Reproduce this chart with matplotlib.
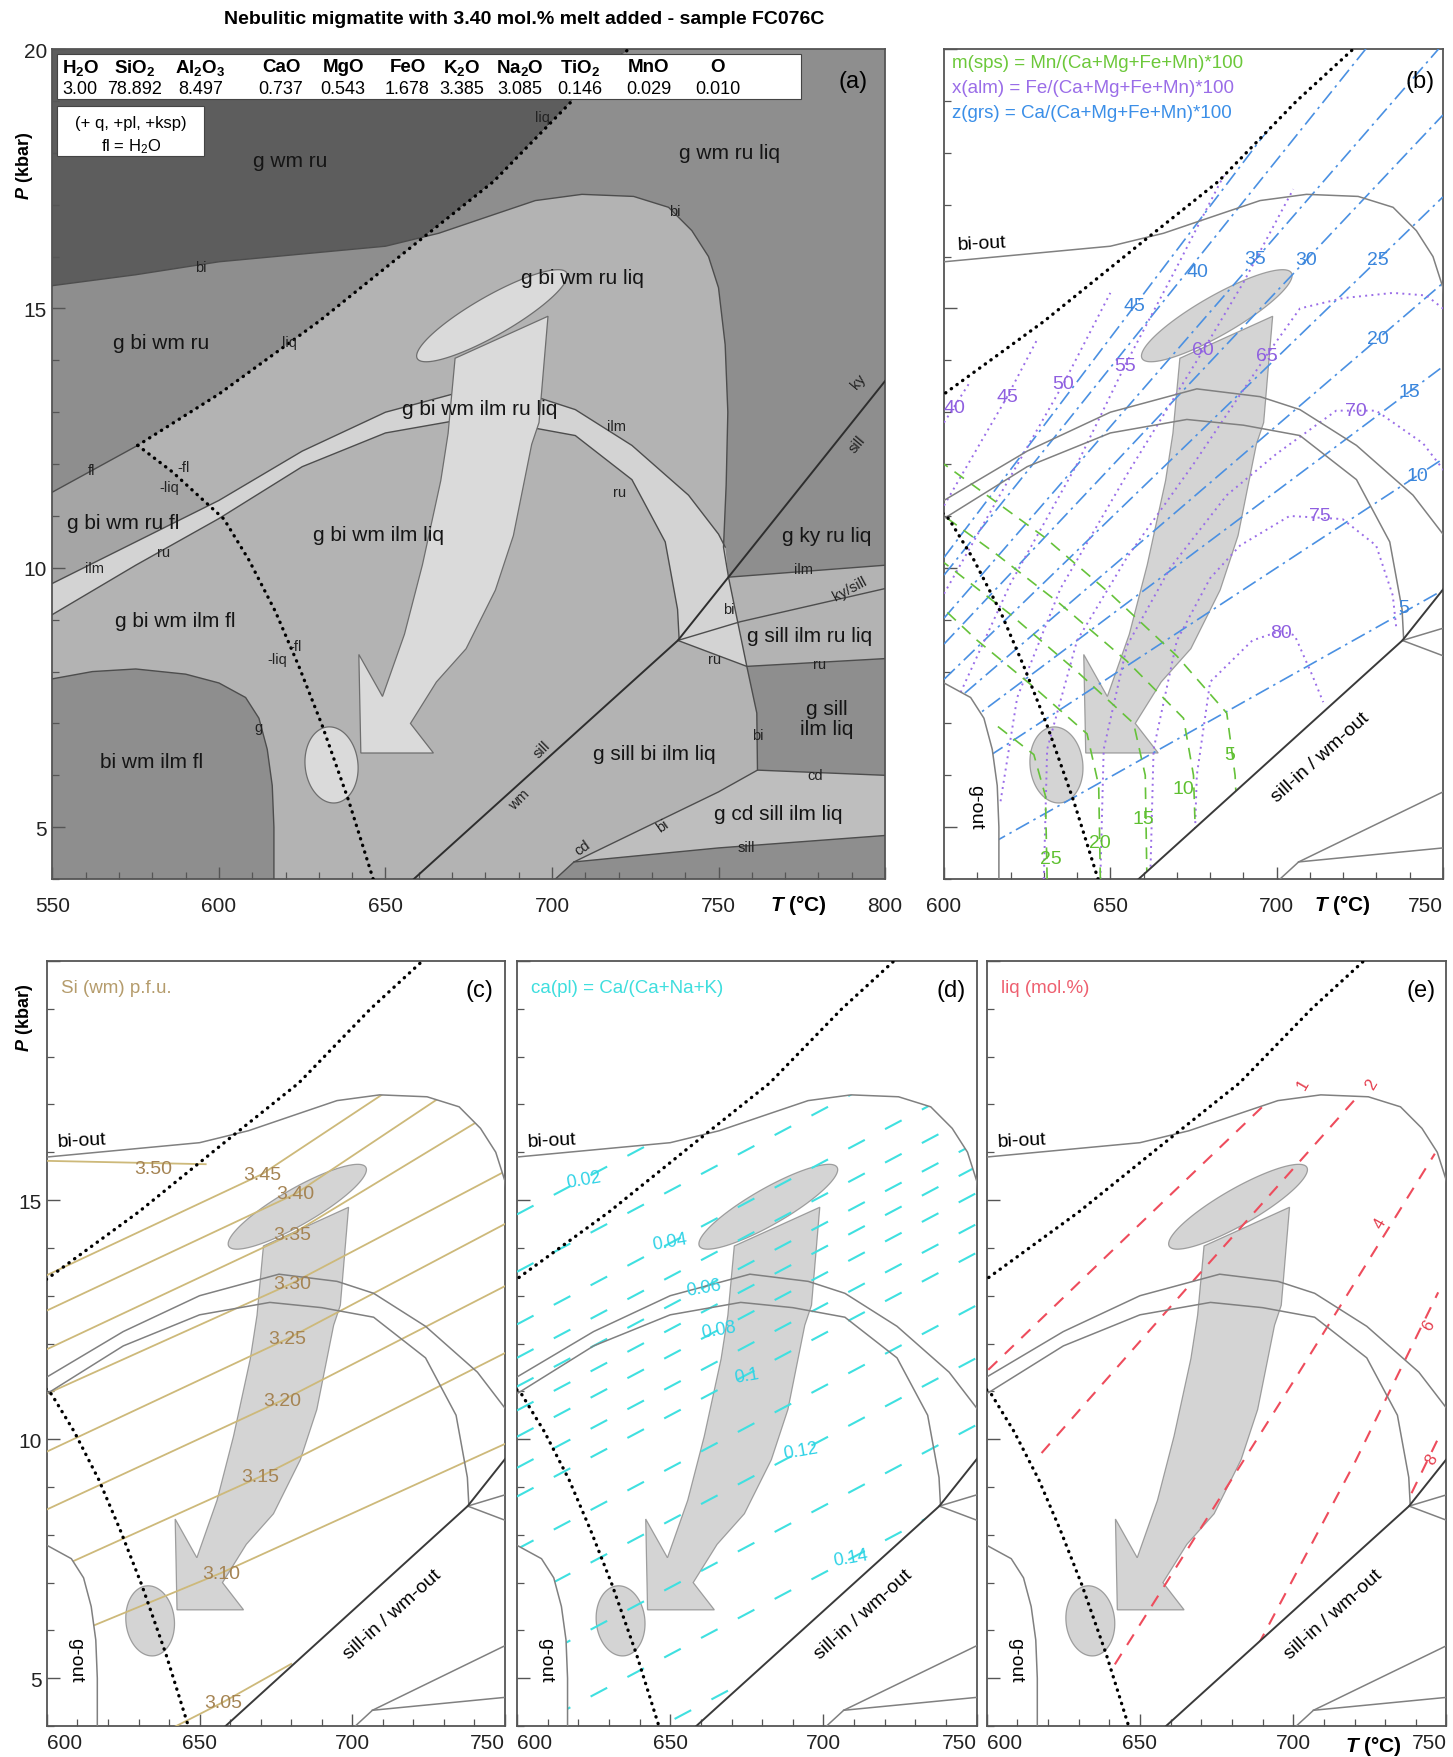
import numpy as np
import matplotlib
matplotlib.use("Agg")
import matplotlib.pyplot as plt
from matplotlib.patches import Polygon, Rectangle
from matplotlib.ticker import MultipleLocator

plt.rcParams['font.family'] = ['Liberation Sans', 'DejaVu Sans']
plt.rcParams['mathtext.fontset'] = 'custom'
plt.rcParams['mathtext.rm'] = 'Liberation Sans'
plt.rcParams['mathtext.it'] = 'Liberation Sans:italic:bold'
plt.rcParams['mathtext.bf'] = 'Liberation Sans:bold'

# ---------------- bulk composition (mol.%) ----------------
oxides = [r'H$_\mathbf{2}$O', r'SiO$_\mathbf{2}$', r'Al$_\mathbf{2}$O$_\mathbf{3}$', 'CaO', 'MgO', 'FeO',
          r'K$_\mathbf{2}$O', r'Na$_\mathbf{2}$O', r'TiO$_\mathbf{2}$', 'MnO', 'O']
amounts = ['3.00', '78.892', '8.497', '0.737', '0.543', '1.678', '3.385', '3.085', '0.146', '0.029', '0.010']

# ---------------- phase boundaries (T in C, P in kbar) ----------------
solidus = np.array([[575.6, 12.36], [600, 13.35], [630, 14.75], [660, 16.3], [682.5, 17.45],
                    [706, 19.0], [723, 20.0], [726, 20.3]])
liq_fl = np.array([[575.6, 12.36], [586, 11.85], [601.5, 10.94], [609, 10.15], [617, 9.15],
                   [624, 8.1], [631, 6.96], [639, 5.5], [646.3, 4.0], [647, 3.8]])
fl_line = np.array([[550, 11.46], [575.6, 12.36]])
bi_line = np.array([[550, 15.44], [575, 15.65], [600, 15.9], [625, 16.05], [650, 16.2], [666, 16.45],
                    [683, 16.82], [695, 17.08], [709, 17.2], [724.5, 17.16], [735, 16.95], [742, 16.5],
                    [747, 16.0], [750, 15.4], [752, 14.3], [752.8, 13.0], [752.3, 11.6], [751.5, 10.4],
                    [753, 9.82]])
band_up = np.array([[550, 9.7], [575, 10.5], [600, 11.3], [625, 12.25], [650, 13.0], [676, 13.45],
                    [695, 13.3], [707, 13.05], [724, 12.36], [741, 11.4], [750, 10.65], [752, 10.4]])
band_lo = np.array([[550, 9.1], [575, 10.05], [600, 10.95], [625, 11.95], [650, 12.6], [673, 12.86],
                    [690, 12.75], [707, 12.55], [724, 11.7], [734, 10.5], [737.7, 9.2], [738.2, 8.6]])
g_out = np.array([[550, 7.86], [562, 8.0], [575, 8.05], [590, 7.95], [600, 7.78], [608, 7.5],
                  [612, 7.1], [614.5, 6.5], [616, 5.8], [616.5, 5.0], [616.5, 3.8]])
wm_sill = np.array([[658.5, 4.0], [737.8, 8.6], [800, 13.6]])
ky_sill2 = np.array([[737.8, 8.6], [756.5, 8.96], [800, 9.6]])
ilm_line = np.array([[753, 9.82], [800, 10.05]])
ru_line = np.array([[737.8, 8.6], [758.5, 8.1], [800, 8.25]])
bi_line2 = np.array([[753, 9.82], [758.5, 8.1], [761.5, 7.2], [761.7, 6.1]])
cd_line = np.array([[701, 4.0], [706.6, 4.33], [750, 5.68], [761.7, 6.1], [800, 6.0]])
sill_line = np.array([[706.6, 4.33], [750, 4.6], [800, 4.84]])

# ---------------- P-T path ----------------
arrow_T = [670.9, 668.8, 666.6, 661.1, 655.7, 649.1, 642.0, 642.6, 664.4, 657.5, 665.3, 674.2,
           683.0, 688.4, 693.9, 696.1, 698.8]
arrow_P = [14.04, 12.59, 11.68, 10.06, 8.72, 7.52, 8.33, 6.43, 6.43, 7.0, 7.8, 8.44,
           9.57, 10.62, 12.38, 12.8, 14.85]
ell_hi = [682.0, 14.86, 22.5, 0.82, 2.6, -0.34]   # centre T,P ; half axis u ; half axis v
ell_lo = [633.8, 6.2, -3.0, 0.70, 7.4, 0.22]

# ---------------- field labels, panel a ----------------
field_names = ['g wm ru', 'g wm ru liq', 'g bi wm ru liq', 'g bi wm ru', 'g bi wm ilm ru liq',
               'g bi wm ru fl', 'g bi wm ilm liq', 'g ky ru liq', 'g bi wm ilm fl', 'g sill ilm ru liq',
               'g sill\nilm liq', 'bi wm ilm fl', 'g sill bi ilm liq', 'g cd sill ilm liq']
field_T = [621.3, 753.2, 709.2, 582.5, 678.2, 571.3, 648.0, 782.5, 586.8, 777.3, 782.5, 579.9, 730.7, 767.8]
field_P = [17.85, 18.0, 15.6, 14.35, 13.08, 10.88, 10.65, 10.62, 8.98, 8.7, 7.1, 6.26, 6.42, 5.26]

tag_text = ['liq', 'bi', 'liq', 'bi', 'ilm', 'ru', 'fl', '-fl', '-liq', 'ilm', 'ru', 'ilm', 'ky/sill',
            'ky', 'sill', 'bi', 'ru', 'ru', 'bi', 'cd', 'sill', '-liq', '-fl', 'g', 'sill', 'wm', 'bi', 'cd']
tag_T = [697.0, 594.6, 621.3, 736.8, 719.5, 720.4, 561.8, 589.4, 585.0, 562.7, 583.4, 775.6, 789.4,
         792.0, 791.5, 753.2, 748.9, 780.3, 761.8, 779.0, 758.3, 617.5, 623.0, 611.8, 697.0, 690.2,
         733.3, 709.2]
tag_P = [18.7, 15.8, 14.35, 16.88, 12.74, 11.46, 11.88, 11.95, 11.55, 10.0, 10.3, 9.98, 9.6,
         13.6, 12.4, 9.21, 8.25, 8.15, 6.77, 6.0, 4.62, 8.25, 8.5, 6.93, 6.5, 5.55, 5.03, 4.62]
tag_rot = [0, 0, 0, 0, 0, 0, 0, 0, 0, 0, 0, 0, 28, 50, 50, 0, 0, 0, 0, 0, 0, 0, 0, 0, 45, 45, 35, 35]

# ---------------- panel b isopleths ----------------
grs_vals = ['5', '10', '15', '20', '25', '30', '35', '40', '45']
grs_P600 = [4.17, 5.8, 6.68, 7.24, 7.85, 8.53, 9.03, 9.86, 10.2]
grs_P750 = [9.57, 12.1, 13.88, 15.49, 17.15, 18.73, 20.1, 21.86, 22.9]
grs_lab_T = [738.3, 742.3, 740.0, 730.5, 730.5, 709.0, 693.6, 676.2, 657.2]
grs_lab_P = [9.23, 11.78, 13.4, 14.42, 15.94, 15.94, 15.96, 15.72, 15.05]

alm_vals = ['40', '45', '50', '55', '60', '65', '70', '75', '80']
alm_lines = [
    np.array([[600, 12.8], [603, 13.1], [608, 13.6]]),
    np.array([[600, 11.2], [619, 13.3], [628, 14.4]]),
    np.array([[600, 9.5], [615, 11.2], [636, 13.56], [650, 15.3]]),
    np.array([[605, 7.6], [620, 9.7], [640, 12.0], [654.4, 13.9], [670, 15.8], [690, 18.3]]),
    np.array([[617, 5.5], [622, 7.5], [635, 9.6], [655, 11.8], [678, 14.2], [690, 15.5], [705, 17.3]]),
    np.array([[630, 4.0], [631, 6.5], [640, 8.6], [655, 10.2], [675, 12.0], [697, 14.1], [707, 15.0],
              [720, 15.2], [735, 15.3], [745, 15.25], [752, 14.9]]),
    np.array([[647, 4.0], [648, 6.5], [655, 8.5], [668, 10.0], [685, 11.4], [700, 12.2], [717.9, 13.03],
              [729.9, 13.03], [744, 12.4], [750, 11.9], [753, 11.5]]),
    np.array([[662, 4.0], [663, 6.5], [670, 8.6], [680, 9.8], [689, 10.43], [703.9, 11.0], [719.8, 10.94],
              [729.9, 10.43], [734.9, 9.47], [736, 8.82]]),
    np.array([[675, 4.0], [676, 6.0], [680, 7.8], [692.7, 8.6], [701, 8.78], [705.4, 8.7], [710.7, 7.93],
              [714, 7.41]])]
alm_lab_T = [603.0, 619.1, 635.9, 654.4, 677.9, 697.0, 723.9, 712.9, 701.2]
alm_lab_P = [13.1, 13.3, 13.56, 13.9, 14.2, 14.1, 13.03, 11.0, 8.76]

sps_vals = ['5', '10', '15', '20', '25']
sps_lines = [
    np.array([[689, 4.0], [687.5, 6.0], [685, 7.2], [670, 8.3], [650, 9.5], [630, 10.6], [600, 12.0]]),
    np.array([[676, 4.0], [675, 6.0], [672, 7.1], [655, 8.2], [635, 9.3], [615, 10.3], [600, 11.0]]),
    np.array([[661, 4.0], [660.5, 6.0], [657, 7.0], [640, 8.0], [620, 9.1], [600, 10.1]]),
    np.array([[647, 4.0], [646.5, 5.8], [643, 6.8], [627, 7.7], [610, 8.6], [600, 9.2]]),
    np.array([[631, 4.0], [630.5, 5.6], [627, 6.4], [615, 7.0]])]
sps_lab_T = [686.0, 672.0, 660.0, 647.0, 632.0]
sps_lab_P = [6.4, 5.74, 5.16, 4.7, 4.4]

# ---------------- panel c: Si in white mica ----------------
si_vals = ['3.50', '3.45', '3.40', '3.35', '3.30', '3.25', '3.20', '3.15', '3.10', '3.05']
si_lines = [
    np.array([[600, 15.82], [652, 15.75]]),
    np.array([[600, 13.43], [670.4, 15.54], [712, 17.3]]),
    np.array([[600, 12.69], [681.4, 15.13], [730, 17.2]]),
    np.array([[600, 11.88], [680.3, 14.29], [742, 16.68]]),
    np.array([[600, 10.95], [680.3, 13.26], [750, 15.6]]),
    np.array([[600, 9.74], [678.8, 12.1], [750, 14.5]]),
    np.array([[600, 8.53], [677.0, 10.81], [750, 13.2]]),
    np.array([[600, 7.2], [669.7, 9.21], [750, 11.8]]),
    np.array([[600, 5.7], [657.0, 7.2], [750, 9.9]]),
    np.array([[630, 3.6], [657.7, 4.5], [680, 5.3]])]
si_lab_T = [634.7, 670.4, 681.4, 680.3, 680.3, 678.8, 677.0, 669.7, 657.0, 657.7]
si_lab_P = [15.66, 15.54, 15.13, 14.29, 13.26, 12.1, 10.81, 9.21, 7.2, 4.5]

# ---------------- panel d: ca(pl) ----------------
ca_P600 = [14.7, 13.5, 12.4, 11.7, 11.1, 10.6, 10.05, 9.4, 8.8, 7.7, 6.6, 5.2, 3.8, 2.4]
ca_P750 = [19.8, 18.6, 17.5, 16.8, 16.2, 15.7, 15.15, 14.5, 13.9, 12.8, 11.7, 10.3, 8.9, 7.5]
ca_labels = ['0.02', '0.04', '0.06', '0.08', '0.1', '0.12', '0.14']
ca_lab_T = [621.7, 650.0, 660.9, 665.8, 675.0, 692.5, 708.8]
ca_lab_P = [15.42, 14.13, 13.18, 12.3, 11.33, 9.76, 7.52]

# ---------------- panel e: melt mode ----------------
liq_vals = ['1', '2', '4', '6', '8']
liq_lines = [
    np.array([[600.5, 11.45], [650, 14.5], [694, 17.2]]),
    np.array([[617.9, 9.71], [670, 13.5], [720.1, 17.1]]),
    np.array([[641.8, 5.29], [700, 11.2], [746.2, 15.97]]),
    np.array([[688.6, 5.7], [720, 9.5], [747.3, 13.07]]),
    np.array([[738.6, 8.87], [748.4, 10.16]])]
liq_lab_T = [703.2, 725.5, 728.3, 744.0, 745.1]
liq_lab_P = [17.43, 17.43, 14.52, 12.39, 9.6]


# ---------------- helpers ----------------
def at(c, t):
    return np.interp(t, c[:, 0], c[:, 1])


def part(c, t0, t1):
    inner = c[(c[:, 0] > t0) & (c[:, 0] < t1)]
    return np.vstack([[t0, at(c, t0)], inner, [t1, at(c, t1)]])


def crossing(c1, c2, lo, hi):
    tt = np.linspace(lo, hi, 4001)
    d = at(c1, tt) - at(c2, tt)
    i = np.where(np.sign(d[:-1]) != np.sign(d[1:]))[0][0]
    return tt[i], at(c1, tt[i])


def ellipse(e, n=120):
    t = np.linspace(0, 2 * np.pi, n)
    return np.column_stack([e[0] + e[2] * np.cos(t) + e[4] * np.sin(t),
                            e[1] + e[3] * np.cos(t) + e[5] * np.sin(t)])


def fill(ax, pts, color, z=1):
    ax.add_patch(Polygon(pts, closed=True, facecolor=color, edgecolor='none', zorder=z))


def line(ax, c, clip=None, **kw):
    ln, = ax.plot(c[:, 0], c[:, 1], **kw)
    if clip is not None:
        ln.set_clip_path(clip)
    return ln


def pt_path(ax, face, edge, alpha, z):
    shapes = [np.column_stack([arrow_T, arrow_P]), ellipse(ell_hi), ellipse(ell_lo)]
    for s in shapes:
        ax.add_patch(Polygon(s, closed=True, facecolor=face, edgecolor=edge, lw=0.9,
                             alpha=alpha, zorder=z))


def style(ax, xlim, xticks, ylabels, xpad, first_left=False, last_right=False):
    ax.set_xlim(*xlim)
    ax.set_ylim(4, 20)
    ax.set_xticks(xticks)
    labs = ax.set_xticklabels([str(v) for v in xticks])
    if first_left:
        labs[0].set_horizontalalignment('left')
    if last_right:
        labs[-1].set_horizontalalignment('right')
    ax.xaxis.set_minor_locator(MultipleLocator(10))
    ax.set_yticks([5, 10, 15, 20])
    ax.yaxis.set_minor_locator(MultipleLocator(1))
    ax.tick_params(which='both', direction='in', top=False, right=False, color='#555555')
    ax.tick_params(which='major', length=9, width=1.0, labelsize=15, labelcolor='#222222')
    ax.tick_params(which='minor', length=5, width=0.9)
    ax.tick_params(axis='x', pad=xpad)
    ax.tick_params(axis='y', pad=4)
    if ylabels is None:
        ax.set_yticklabels([])
    else:
        ax.set_yticklabels(ylabels)
    for s in ax.spines.values():
        s.set_color('#555555')
        s.set_linewidth(1.3)


bi_mono = bi_line[:np.argmax(np.diff(bi_line[:, 0]) <= 0) + 1]
Tx, Px = crossing(solidus, bi_mono, 640, 680)
Ty, Py = crossing(liq_fl, band_up, 578, 601.5)

gout_rev = g_out[::-1]
gout_rev = gout_rev[gout_rev[:, 0] >= 590][1:]
clip_b_pts = np.vstack([[[590, 7.95], [590, 15.85]], part(bi_mono, 600, Tx), part(solidus, Tx, 726)[1:],
                        [[760, 20.3], [760, at(wm_sill, 760)]], wm_sill[:2][::-1],
                        [[658.5, 3.8], [616.5, 3.8]], gout_rev])
clip_c_pts = np.vstack([[[590, 7.95], [590, 15.85]], bi_line[bi_line[:, 0] >= 600], wm_sill[:2][::-1],
                        [[658.5, 3.8], [616.5, 3.8]], gout_rev])

dots = dict(color='black', lw=2.4, ls=(0, (0.1, 2.0)), dash_capstyle='round', zorder=6)

# ---------------- figure ----------------
fig = plt.figure(figsize=(14.53, 17.58), dpi=100)
fig.text(0.3606, 0.989, 'Nebulitic migmatite with 3.40 mol.% melt added - sample FC076C',
         ha='center', va='center', fontsize=14, fontweight='bold')

ax_a = fig.add_axes([0.0361, 0.4994, 0.5730, 0.4721])
ax_b = fig.add_axes([0.6497, 0.4994, 0.3434, 0.4721])
ax_c = fig.add_axes([0.0323, 0.0176, 0.3152, 0.4352])
ax_d = fig.add_axes([0.3558, 0.0176, 0.3164, 0.4352])
ax_e = fig.add_axes([0.6791, 0.0176, 0.3164, 0.4352])

# ======================= panel a =======================
ax = ax_a
D1, D2, MID, FLC, LIG, CDC = '#5d5d5d', '#8e8e8e', '#b3b3b3', '#a5a5a5', '#d3d3d3', '#bebebe'
ax.set_facecolor(MID)
bi_right = np.vstack([[Tx, Px], bi_line[bi_line[:, 0] > Tx]])
fill(ax, np.vstack([part(bi_mono, 550, Tx), part(solidus, Tx, 726)[1:], [[726, 21], [540, 21], [540, 15.44]]]), D1)
fill(ax, np.vstack([[[540, 11.46]], fl_line, part(solidus, 575.6, Tx)[1:], part(bi_mono, 550, Tx)[::-1],
                    [[540, 15.44]]]), D2)
fill(ax, np.vstack([part(solidus, Tx, 726), [[726, 21], [810, 21], [810, 10.05]], ilm_line[::-1],
                    bi_right[::-1]]), D2)
fill(ax, np.vstack([[[540, 11.46]], fl_line, part(liq_fl, 575.6, Ty)[1:], part(band_up, 550, Ty)[::-1],
                    [[540, 9.7]]]), FLC)
fill(ax, np.vstack([[[540, 9.7]], band_up, [[753, 9.82], [758.5, 8.1], [737.8, 8.6]], band_lo[::-1],
                    [[540, 9.1]]]), LIG)
fill(ax, np.vstack([[[540, 7.86]], g_out, [[616.5, 3.5], [540, 3.5]]]), D2)
fill(ax, np.vstack([ru_line[1:], [[810, 8.25], [810, 6.0]], cd_line[::-1][:2], bi_line2[2:][::-1]]), D2)
fill(ax, np.vstack([cd_line[1:], [[810, 6.0], [810, 4.84]], sill_line[::-1]]), CDC)
fill(ax, np.vstack([sill_line, [[810, 4.84], [810, 3.5], [701, 3.5], [701, 4.0]]]), D2)

bl = dict(color='#4d4d4d', lw=1.0, zorder=3)
for c in (bi_line, band_up, band_lo, g_out, fl_line, ilm_line, ru_line, bi_line2, cd_line,
          sill_line, ky_sill2):
    line(ax, c, **bl)
line(ax, wm_sill, color='#2e2e2e', lw=1.4, zorder=3)
line(ax, solidus, **dots)
line(ax, liq_fl, **dots)
pt_path(ax, '#dadada', '#6e6e6e', 1.0, 4)

for name, t, p in zip(field_names, field_T, field_P):
    ax.text(t, p, name, ha='center', va='center', fontsize=15, color='#151515', zorder=8,
            linespacing=1.1)
for s, t, p, r in zip(tag_text, tag_T, tag_P, tag_rot):
    ax.text(t, p, s, ha='center', va='center', fontsize=10.5, color='#222222', rotation=r, zorder=8)

ax.add_patch(Rectangle((0.006, 0.94), 0.893, 0.054, transform=ax.transAxes, facecolor='white',
                       edgecolor='#444444', lw=0.8, zorder=10))
ax.add_patch(Rectangle((0.006, 0.871), 0.176, 0.06, transform=ax.transAxes, facecolor='white',
                       edgecolor='#444444', lw=0.8, zorder=10))
col_x = [0.0335, 0.099, 0.178, 0.2745, 0.349, 0.4265, 0.492, 0.561, 0.634, 0.716, 0.799]
for x, ox, am in zip(col_x, oxides, amounts):
    ax.text(x, 0.979, ox, transform=ax.transAxes, ha='center', va='center', fontsize=13.5,
            fontweight='bold', zorder=11)
    ax.text(x, 0.953, am, transform=ax.transAxes, ha='center', va='center', fontsize=13, zorder=11)
ax.text(0.094, 0.912, '(+ q, +pl, +ksp)', transform=ax.transAxes, ha='center', va='center',
        fontsize=12, zorder=11)
ax.text(0.094, 0.884, r'fl = H$_2$O', transform=ax.transAxes, ha='center', va='center',
        fontsize=12, zorder=11)
ax.text(0.962, 0.962, '(a)', transform=ax.transAxes, ha='center', va='center', fontsize=17, zorder=11)
style(ax, (550, 800), [550, 600, 650, 700, 750, 800], ['5', '10', '15', '20'], 12)
ax.text(774, -0.031, r'$T$ (°C)', transform=ax.get_xaxis_transform(), ha='center', va='center',
        fontsize=15, fontweight='bold')
fig.text(0.0172, 0.9056, r'$P$ (kbar)', rotation=90, ha='center', va='center', fontsize=13,
         fontweight='bold')


# ======================= shared frame for b-e =======================
def frame(ax):
    ax.set_facecolor('white')
    gl = dict(color='#808080', lw=1.1, zorder=4)
    for c in (bi_line, band_up, band_lo, g_out, ru_line, ky_sill2, cd_line, sill_line):
        line(ax, c, **gl)
    line(ax, wm_sill, color='#3a3a3a', lw=1.4, zorder=4)
    line(ax, solidus, **dots)
    line(ax, liq_fl, **dots)
    pt_path(ax, '#c4c4c4', '#808080', 0.72, 2)
    ax.text(611.5, 16.25, 'bi-out', ha='center', va='center', fontsize=14, rotation=3, zorder=7)
    ax.text(609.5, 5.4, 'g-out', ha='center', va='center', fontsize=14, rotation=270, zorder=7)
    ax.text(713, 6.35, 'sill-in / wm-out', ha='center', va='center', fontsize=14, rotation=42, zorder=7)


# ======================= panel b =======================
ax = ax_b
frame(ax)
clip_b = Polygon(clip_b_pts, closed=True, transform=ax.transData)
for p0, p1 in zip(grs_P600, grs_P750):
    line(ax, np.array([[600, p0], [750, p1]]), clip=clip_b, color='#4a90e2', lw=1.2,
         ls=(0, (9, 3, 1.5, 3)), zorder=3)
for c in alm_lines:
    line(ax, c, clip=clip_b, color='#9a6de8', lw=1.4, ls=(0, (1, 2.2)), zorder=3)
for c in sps_lines:
    line(ax, c, clip=clip_b, color='#66c23a', lw=1.2, ls=(0, (7, 5)), zorder=3)
for v, t, p in zip(grs_vals, grs_lab_T, grs_lab_P):
    ax.text(t, p, v, ha='center', va='center', fontsize=14, color='#3b86dc', zorder=8)
for v, t, p in zip(alm_vals, alm_lab_T, alm_lab_P):
    ax.text(t, p, v, ha='center', va='center', fontsize=14, color='#8f5fe0', zorder=8)
for v, t, p in zip(sps_vals, sps_lab_T, sps_lab_P):
    ax.text(t, p, v, ha='center', va='center', fontsize=14, color='#5ec030', zorder=8)
ax.text(0.016, 0.984, 'm(sps) = Mn/(Ca+Mg+Fe+Mn)*100', transform=ax.transAxes, ha='left',
        va='center', fontsize=13.5, color='#6cc83a')
ax.text(0.016, 0.954, 'x(alm) = Fe/(Ca+Mg+Fe+Mn)*100', transform=ax.transAxes, ha='left',
        va='center', fontsize=13.5, color='#9a6de8')
ax.text(0.016, 0.924, 'z(grs) = Ca/(Ca+Mg+Fe+Mn)*100', transform=ax.transAxes, ha='left',
        va='center', fontsize=13.5, color='#3b8fe8')
ax.text(0.955, 0.962, '(b)', transform=ax.transAxes, ha='center', va='center', fontsize=17, zorder=11)
style(ax, (600, 750), [600, 650, 700, 750], None, 12, last_right=True)
ax.text(719.8, -0.031, r'$T$ (°C)', transform=ax.get_xaxis_transform(), ha='center', va='center',
        fontsize=15, fontweight='bold')

# ======================= panel c =======================
ax = ax_c
frame(ax)
clip_c = Polygon(clip_c_pts, closed=True, transform=ax.transData)
for c in si_lines:
    line(ax, c, clip=clip_c, color='#cdb97a', lw=1.3, zorder=3)
for v, t, p in zip(si_vals, si_lab_T, si_lab_P):
    ax.text(t, p, v, ha='center', va='center', fontsize=14, color='#a58454', zorder=8)
ax.text(0.03, 0.965, 'Si (wm) p.f.u.', transform=ax.transAxes, ha='left', va='center',
        fontsize=13.5, color='#b59c6c')
ax.text(0.945, 0.962, '(c)', transform=ax.transAxes, ha='center', va='center', fontsize=17, zorder=11)
style(ax, (600, 750), [600, 650, 700, 750], ['5', '10', '15', ''], 5, first_left=True, last_right=True)
fig.text(0.0172, 0.421, r'$P$ (kbar)', rotation=90, ha='center', va='center', fontsize=13,
         fontweight='bold')

# ======================= panel d =======================
ax = ax_d
frame(ax)
clip_d = Polygon(clip_c_pts, closed=True, transform=ax.transData)
for p0, p1 in zip(ca_P600, ca_P750):
    line(ax, np.array([[600, p0], [750, p1]]), clip=clip_d, color='#3fe0e0', lw=1.5,
         ls=(0, (9, 11)), zorder=3)
for v, t, p in zip(ca_labels, ca_lab_T, ca_lab_P):
    ax.text(t, p, v, ha='center', va='center', fontsize=13, color='#2fd2e6', rotation=10, zorder=8)
ax.text(0.03, 0.965, 'ca(pl) = Ca/(Ca+Na+K)', transform=ax.transAxes, ha='left', va='center',
        fontsize=13.5, color='#3fdede')
ax.text(0.945, 0.962, '(d)', transform=ax.transAxes, ha='center', va='center', fontsize=17, zorder=11)
style(ax, (600, 750), [600, 650, 700, 750], None, 5, first_left=True, last_right=True)

# ======================= panel e =======================
ax = ax_e
frame(ax)
clip_e = Polygon(clip_c_pts, closed=True, transform=ax.transData)
for c in liq_lines:
    line(ax, c, clip=clip_e, color='#ee4c5c', lw=1.5, ls=(0, (6, 5)), zorder=3)
for v, t, p in zip(liq_vals, liq_lab_T, liq_lab_P):
    ax.text(t, p, v, ha='center', va='center', fontsize=12, color='#e43c4c', rotation=60, zorder=8)
ax.text(0.03, 0.965, 'liq (mol.%)', transform=ax.transAxes, ha='left', va='center',
        fontsize=13.5, color='#ee6070')
ax.text(0.945, 0.962, '(e)', transform=ax.transAxes, ha='center', va='center', fontsize=17, zorder=11)
style(ax, (600, 750), [600, 650, 700, 750], None, 5, first_left=True, last_right=True)
ax.text(726.3, -0.026, r'$T$ (°C)', transform=ax.get_xaxis_transform(), ha='center', va='center',
        fontsize=15, fontweight='bold')

fig.savefig('out.png', dpi=100, facecolor='white')
